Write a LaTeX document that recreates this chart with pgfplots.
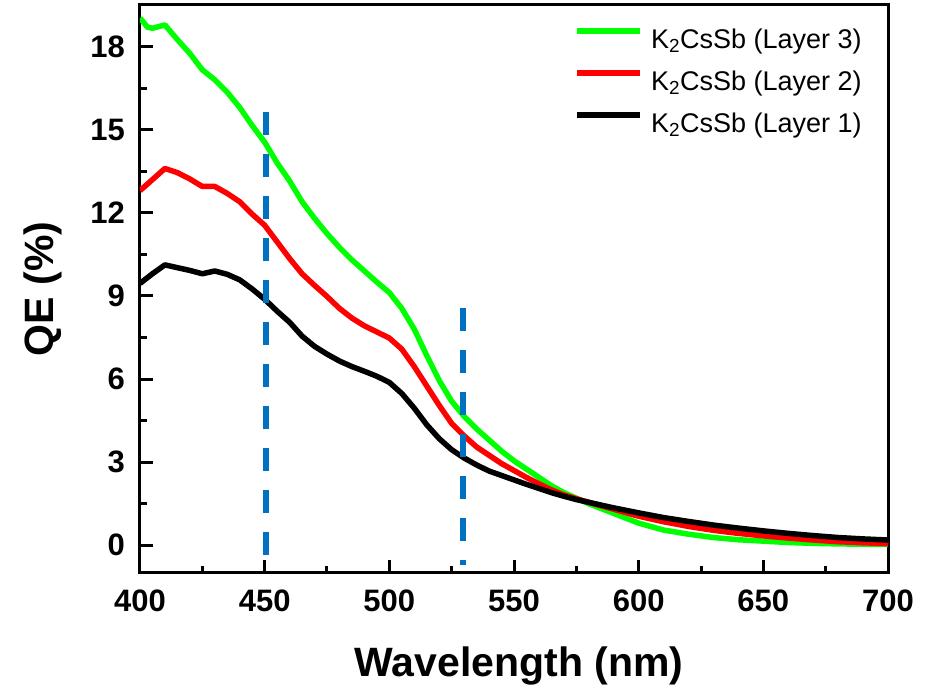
\documentclass[border=0pt]{standalone}
\usepackage{fontspec}
\setmainfont{Liberation Sans}
\usepackage{pgfplots}
\pgfplotsset{compat=1.18}
\definecolor{dblue}{HTML}{0070C0}
\definecolor{cgreen}{HTML}{00FF00}
\definecolor{cred}{HTML}{FF0000}

\pgfplotstableread{
x y
400 19.03
403 18.70
405 18.66
410 18.78
415 18.25
420 17.75
425 17.16
430 16.80
435 16.35
440 15.80
445 15.15
450 14.55
455 13.80
460 13.15
465 12.40
470 11.80
475 11.25
480 10.75
485 10.30
490 9.90
495 9.50
500 9.12
505 8.55
510 7.80
515 6.85
520 5.95
525 5.20
530 4.65
535 4.20
540 3.80
545 3.40
550 3.05
555 2.75
560 2.45
565 2.15
570 1.90
575 1.70
580 1.50
590 1.15
600 0.80
610 0.55
620 0.40
630 0.28
640 0.20
650 0.15
660 0.10
670 0.07
680 0.05
690 0.04
700 0.03
}\layerthree

\pgfplotstableread{
x y
400 12.80
405 13.20
410 13.60
415 13.45
420 13.22
425 12.95
430 12.95
435 12.70
440 12.40
445 11.95
450 11.55
455 10.95
460 10.35
465 9.80
470 9.38
475 8.98
480 8.55
485 8.20
490 7.92
495 7.70
500 7.48
505 7.08
510 6.45
515 5.75
520 5.05
525 4.40
530 3.95
535 3.55
540 3.25
545 2.95
550 2.70
555 2.45
560 2.22
565 2.00
570 1.82
575 1.68
580 1.55
590 1.30
600 1.05
610 0.85
620 0.68
630 0.54
640 0.43
650 0.34
660 0.26
670 0.19
680 0.13
690 0.09
700 0.06
}\layertwo

\pgfplotstableread{
x y
400 9.45
405 9.80
410 10.12
415 10.02
420 9.92
425 9.80
430 9.90
435 9.78
440 9.58
445 9.25
450 8.88
455 8.45
460 8.05
465 7.55
470 7.18
475 6.90
480 6.65
485 6.45
490 6.28
495 6.10
500 5.88
505 5.48
510 4.95
515 4.35
520 3.85
525 3.45
530 3.15
535 2.90
540 2.68
545 2.52
550 2.36
555 2.20
560 2.05
565 1.90
570 1.77
575 1.65
580 1.55
590 1.35
600 1.17
610 1.00
620 0.86
630 0.73
640 0.62
650 0.52
660 0.43
670 0.35
680 0.28
690 0.23
700 0.19
}\layerone

\begin{document}
\begin{tikzpicture}
\begin{axis}[
  name=ax,
  scale only axis, width=748pt, height=568pt,
  xmin=400, xmax=700, ymin=-1, ymax=19.5,
  xtick={400,450,...,700}, ytick={0,3,...,18},
  minor x tick num=1, minor y tick num=1,
  tick align=inside, tick pos=left,
  major tick length=13pt, minor tick length=7pt,
  tick style={line width=3pt, black},
  axis line style={line width=3pt},
  /pgf/number format/assume math mode=true,
  ticklabel style={font=\fontsize{31}{31}\selectfont\bfseries, inner sep=0pt},
  xticklabel style={anchor=north, yshift=-17pt},
  yticklabel style={anchor=east, xshift=-15pt},
  xlabel={Wavelength (nm)}, ylabel={QE (\%)},
  label style={font=\fontsize{41}{41}\selectfont\bfseries, inner sep=0pt},
  xlabel style={at={(axis description cs:0.5067,-0.18257)}, anchor=base},
  ylabel style={at={(axis description cs:-0.1159,0.5)}, anchor=base, rotate=0},
  legend style={draw=none, fill=none, at={(axis description cs:0.5798,0.96)}, anchor=north west,
    inner sep=0pt, font=\fontsize{27}{27}\selectfont, row sep=15.8pt, column sep=8.3pt,
    nodes={inner sep=0pt, text height=19pt, text depth=6pt}},
  legend cell align=left,
  legend image code/.code={\draw[#1, line width=6pt] (0pt,10.7pt) -- (63pt,10.7pt);},
]
\addplot[cgreen, line width=5.5pt, line join=round] table {\layerthree};
\addlegendentry{K\textsubscript{2}CsSb (Layer 3)}
\addplot[cred, line width=5.5pt, line join=round] table {\layertwo};
\addlegendentry{K\textsubscript{2}CsSb (Layer 2)}
\addplot[black, line width=5.5pt, line join=round] table {\layerone};
\addlegendentry{K\textsubscript{2}CsSb (Layer 1)}
\addplot[dblue, line width=6pt, dash pattern=on 23pt off 19pt, forget plot] coordinates {(450.7,15.656) (450.7,-0.335)};
\addplot[dblue, line width=6pt, dash pattern=on 23pt off 19pt, forget plot] coordinates {(529.7,8.564) (529.7,-0.72)};
\end{axis}
\path ([shift={(-140pt,-120pt)}]ax.south west) rectangle ([shift={(50pt,5pt)}]ax.north east);
\end{tikzpicture}
\end{document}
